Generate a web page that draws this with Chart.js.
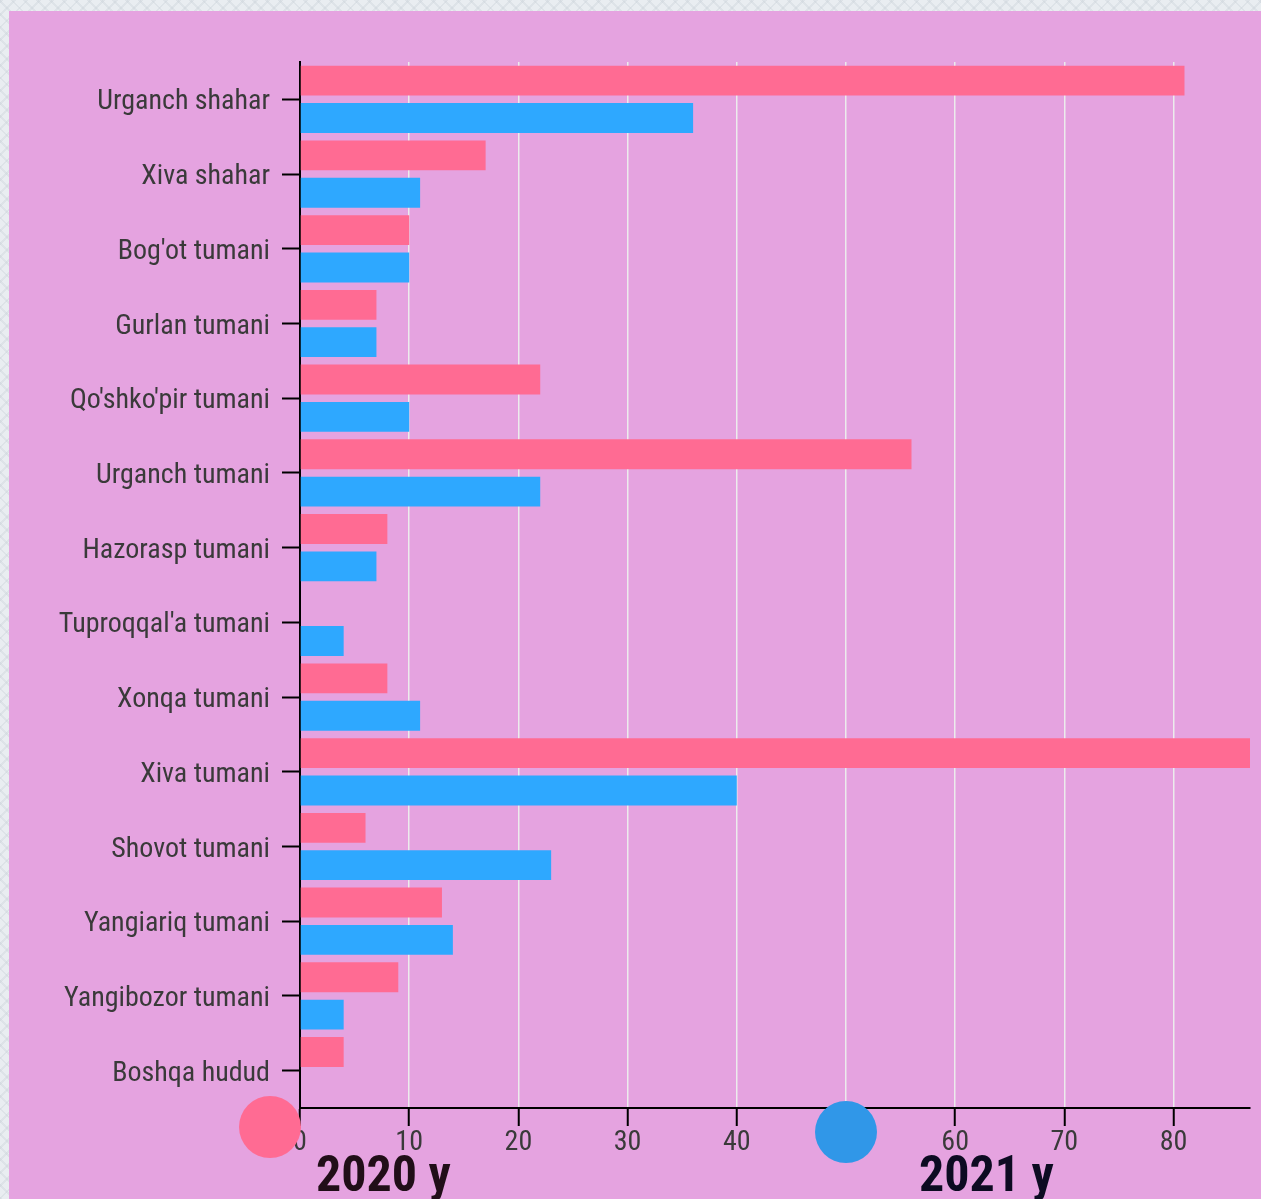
<!DOCTYPE html>
<html>
<head>
<meta charset="utf-8">
<script src="https://cdn.jsdelivr.net/npm/chart.js@4/dist/chart.umd.min.js"></script>
<style>
  html, body { margin: 0; padding: 0; }
  body {
    width: 1261px; height: 1199px; overflow: hidden;
    background-color: #e9edf1;
    background-image: repeating-linear-gradient(45deg, rgba(200,208,215,0.35) 0 2px, transparent 2px 9px),
                      repeating-linear-gradient(-45deg, rgba(200,208,215,0.35) 0 2px, transparent 2px 9px);
  }
  #box {
    position: absolute; left: 9px; top: 11px;
    width: 1252px; height: 1188px;
    background: #e5a3e0;
  }
</style>
</head>
<body>
<div id="box"><canvas id="chart" width="1252" height="1188"></canvas></div>
<script>
// --- Data ---
const regions = [
  "Urganch shahar", "Xiva shahar", "Bog'ot tumani", "Gurlan tumani",
  "Qo'shko'pir tumani", "Urganch tumani", "Hazorasp tumani", "Tuproqqal'a tumani",
  "Xonqa tumani", "Xiva tumani", "Shovot tumani", "Yangiariq tumani",
  "Yangibozor tumani", "Boshqa hudud"
];
const values2020 = [81, 17, 10, 7, 22, 56, 8, 0, 8, 87, 6, 13, 9, 4];
const values2021 = [36, 11, 10, 7, 10, 22, 7, 4, 11, 40, 23, 14, 4, 0];
const seriesLabels = ["2020 y", "2021 y"];
const xTicks = [0, 10, 20, 30, 40, 50, 60, 70, 80];

const FONT = "'Roboto Condensed', 'Liberation Sans Narrow', 'DejaVu Sans Condensed', sans-serif";

// --- Legend (big dots + bold year under the x axis) ---
const bottomLegend = {
  id: "bottomLegend",
  afterDraw(chart) {
    const ctx = chart.ctx;
    const items = [
      { label: seriesLabels[0], dot: "#ff6b93", text: "#210e18", cx: 261, cy: 1116, tx: 307 },
      { label: seriesLabels[1], dot: "#3097e8", text: "#0d0b22", cx: 837, cy: 1121, tx: 910 }
    ];
    ctx.save();
    items.forEach(it => {
      ctx.fillStyle = it.dot;
      ctx.beginPath();
      ctx.arc(it.cx, it.cy, 31, 0, Math.PI * 2);
      ctx.fill();
      ctx.fillStyle = it.text;
      ctx.font = "bold 50px " + FONT;
      ctx.textBaseline = "alphabetic";
      ctx.textAlign = "left";
      ctx.fillText(it.label, it.tx, 1180);
    });
    ctx.restore();
  }
};

new Chart(document.getElementById("chart"), {
  type: "bar",
  data: {
    labels: regions,
    datasets: [
      { label: seriesLabels[0], data: values2020, backgroundColor: "#ff6b93" },
      { label: seriesLabels[1], data: values2021, backgroundColor: "#2ea8ff" }
    ]
  },
  options: {
    indexAxis: "y",
    responsive: false,
    animation: false,
    layout: { padding: { top: 51, right: 11, left: 0, bottom: 0 } },
    datasets: { bar: { categoryPercentage: 1.0, barPercentage: 0.8 } },
    plugins: { legend: { display: false }, tooltip: { enabled: false } },
    scales: {
      x: {
        min: 0,
        max: 87,
        afterBuildTicks: s => { s.ticks = xTicks.map(v => ({ value: v })); },
        afterFit: s => { s.height = 91; },
        ticks: { color: "#3a3a3a", font: { family: FONT, size: 28 }, padding: 0, maxRotation: 0 },
        grid: { color: "#ececec", lineWidth: 1.5, tickColor: "#000", tickWidth: 2, tickLength: 18 },
        border: { color: "#000", width: 2 }
      },
      y: {
        afterFit: s => { s.width = 291; },
        ticks: { color: "#3a3a3a", font: { family: FONT, size: 28 }, padding: 12, labelOffset: 3 },
        grid: { offset: false, drawOnChartArea: false, tickColor: "#000", tickWidth: 2, tickLength: 18 },
        border: { color: "#000", width: 2 }
      }
    }
  },
  plugins: [bottomLegend]
});
</script>
</body>
</html>
